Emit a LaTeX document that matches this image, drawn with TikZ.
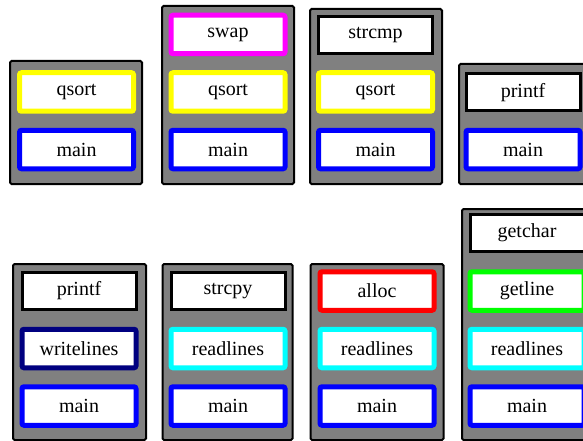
\documentclass[tikz,border=0pt]{standalone}
\usepackage{fontspec}
\setmainfont{Liberation Serif}
\begin{document}
\begin{tikzpicture}[x=1pt,y=-1pt,
  stackbg/.style={draw=black, line width=2pt, fill=stackgray, rounded corners=1.5pt, inner sep=0pt, minimum width=132pt},
  fn/.style={draw=#1, fill=white, line width=5pt, rounded corners=2pt, minimum width=114pt, minimum height=38.5pt, inner sep=0pt, font=\fontsize{20}{24}\selectfont},
  lib/.style={draw=black, fill=white, line width=3pt, minimum width=114pt, minimum height=37pt, inner sep=0pt, font=\fontsize{20}{24}\selectfont}]
\definecolor{stackgray}{RGB}{128,128,128}
\definecolor{cyellow}{RGB}{255,255,0}
\definecolor{cblue}{RGB}{0,0,255}
\definecolor{cmagenta}{RGB}{255,0,255}
\definecolor{cnavy}{RGB}{0,0,128}
\definecolor{ccyan}{RGB}{0,255,255}
\definecolor{cred}{RGB}{255,0,0}
\definecolor{cgreen}{RGB}{0,255,0}
\useasboundingbox (0,0) rectangle (583,441);
\clip (0,0) rectangle (583,441);
% top row
\node[stackbg, minimum height=123pt] (s1) at (76,122.5) {};
\node[fn=cyellow] (s1q) at (76.5,92) {qsort};
\node[fn=cblue] (s1m) at (76.5,149.5) {main};

\node[stackbg, minimum height=178pt] (s2) at (228,95) {};
\node[fn=cmagenta] (s2s) at (228,34.5) {swap};
\node[fn=cyellow] (s2q) at (228,92) {qsort};
\node[fn=cblue] (s2m) at (228,149.5) {main};

\node[stackbg, minimum height=175pt] (s3) at (376,96.5) {};
\node[lib] (s3c) at (375.5,35) {strcmp};
\node[fn=cyellow] (s3q) at (375.5,92) {qsort};
\node[fn=cblue] (s3m) at (375.5,149.5) {main};

\node[stackbg, minimum height=120pt] (s4) at (525,124) {};
\node[lib] (s4p) at (523,92.5) {printf};
\node[fn=cblue] (s4m) at (523,149.5) {main};

% bottom row
\node[stackbg, minimum height=176pt, minimum width=133pt] (s5) at (79.5,352) {};
\node[lib] (s5p) at (79,291) {printf};
\node[fn=cnavy] (s5w) at (79,348.5) {writelines};
\node[fn=cblue] (s5m) at (79,406) {main};

\node[stackbg, minimum height=176pt, minimum width=130pt] (s6) at (227.5,352) {};
\node[lib] (s6c) at (228,291) {strcpy};
\node[fn=ccyan] (s6r) at (228,348.5) {readlines};
\node[fn=cblue] (s6m) at (228,406) {main};

\node[stackbg, minimum height=176pt, minimum width=133pt] (s7) at (377,352) {};
\node[fn=cred] (s7a) at (377,291) {alloc};
\node[fn=ccyan] (s7r) at (377,348.5) {readlines};
\node[fn=cblue] (s7m) at (377,406) {main};

\node[stackbg, minimum height=231pt] (s8) at (528,324.5) {};
\node[lib] (s8c) at (527,233) {getchar};
\node[fn=cgreen] (s8g) at (527,291) {getline};
\node[fn=ccyan] (s8r) at (527,348.5) {readlines};
\node[fn=cblue] (s8m) at (527,406) {main};
\end{tikzpicture}
\end{document}
